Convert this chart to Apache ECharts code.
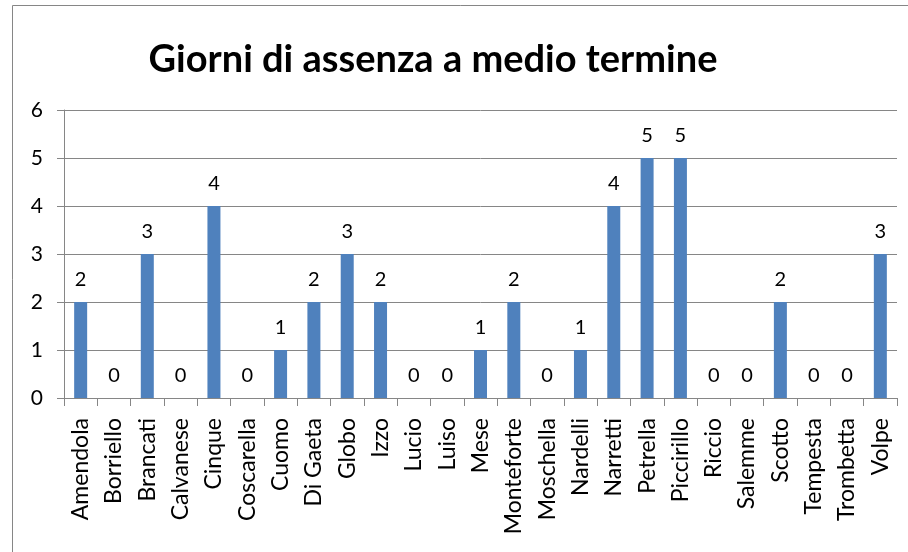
<!DOCTYPE html>
<html lang="it">
<head>
    <meta charset="UTF-8">
    <title>Giorni di assenza</title>
    <script src="https://cdn.jsdelivr.net/npm/echarts@6/dist/echarts.min.js"></script>
    <style>
        html, body { margin: 0; padding: 0; background: #fff; }
    </style>
</head>
<body>
    <div id="main" style="width: 908px; height: 552px;"></div>
<script>
    // nomi degli alunni
    var alunni = ['Amendola', 'Borriello', 'Brancati', 'Calvanese', 'Cinque', 'Coscarella',
        'Cuomo', 'Di Gaeta', 'Globo', 'Izzo', 'Lucio', 'Luiso', 'Mese', 'Monteforte',
        'Moschella', 'Nardelli', 'Narretti', 'Petrella', 'Piccirillo', 'Riccio',
        'Salemme', 'Scotto', 'Tempesta', 'Trombetta', 'Volpe'];
    // giorni di assenza
    var giorni = [2, 0, 3, 0, 4, 0, 1, 2, 3, 2, 0, 0, 1, 2, 0, 1, 4, 5, 5, 0, 0, 2, 0, 0, 3];

    var font = 'Lato, "Open Sans", sans-serif';
    var chart = echarts.init(document.getElementById('main'));

    chart.setOption({
        animation: false,
        title: {
            text: 'Giorni di assenza a medio termine',
            left: 428,
            textAlign: 'center',
            top: 36,
            textStyle: { fontFamily: font, fontSize: 38, fontWeight: 'bold', color: '#000' }
        },
        graphic: [{
            type: 'rect',
            shape: { x: 12.5, y: 5.5, width: 1000, height: 1000 },
            style: { fill: 'none', stroke: '#868686', lineWidth: 1 }
        }],
        grid: { left: 64, right: 11, top: 110, bottom: 154 },
        xAxis: {
            type: 'category',
            data: alunni,
            axisLine: { lineStyle: { color: '#868686' } },
            axisTick: { show: true, length: 8, lineStyle: { color: '#868686' } },
            axisLabel: {
                rotate: 90, interval: 0, margin: 20,
                fontFamily: font, fontSize: 23, color: '#000'
            }
        },
        yAxis: {
            type: 'value',
            min: 0, max: 6, interval: 1,
            axisLine: { show: true, lineStyle: { color: '#868686' } },
            axisTick: { show: true, length: 7, lineStyle: { color: '#868686' } },
            splitLine: { lineStyle: { color: '#868686' } },
            axisLabel: { margin: 21, fontFamily: font, fontSize: 21, color: '#000' }
        },
        series: [{
            type: 'bar',
            data: giorni,
            barWidth: 13,
            itemStyle: { color: '#4F81BD' },
            label: {
                show: true, position: 'top', distance: 12,
                fontFamily: font, fontSize: 20, color: '#000'
            }
        }]
    });
</script>
</body>
</html>
